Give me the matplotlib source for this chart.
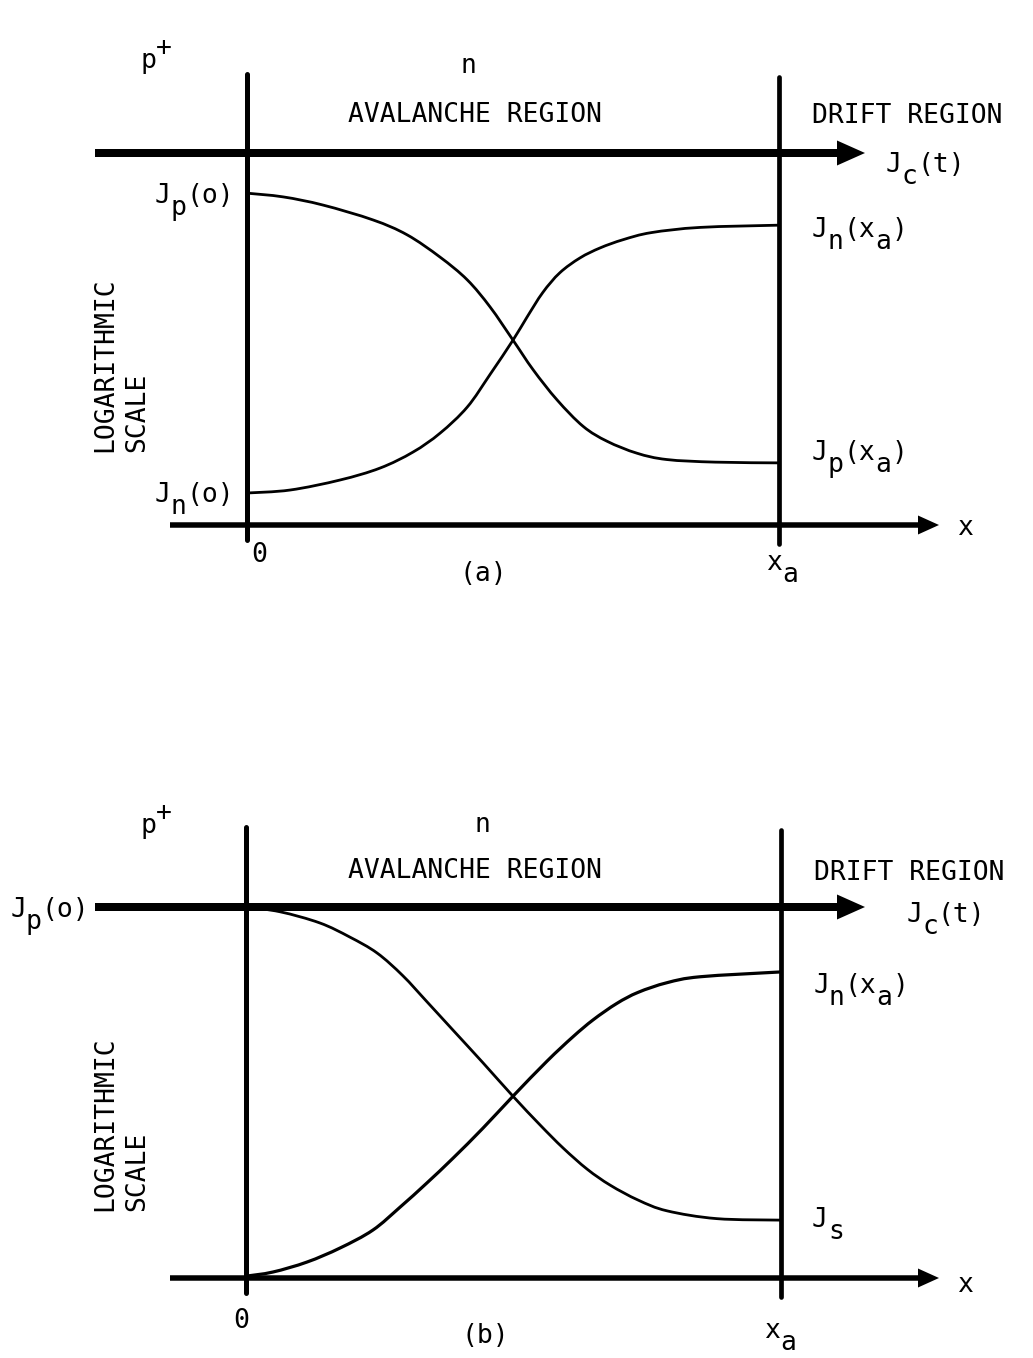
import matplotlib
matplotlib.use('Agg')
import matplotlib.pyplot as plt
import numpy as np
from matplotlib.path import Path
from matplotlib.patches import PathPatch

W, H, DPI = 1033, 1358, 100
FONT = 'DejaVu Sans Mono'
FS = 19
PITCH = 0.602 * FS      # width of one character cell, points
SUB = -8.5              # typewriter half-line down, points
SUP = 9.5               # half-line up

# x in units of x_a, current level on the log scale (0 = x axis, 1 = J_c line)
# (a) constant J_c, both carriers injected
jp_a_x = [0.000, 0.068, 0.143, 0.237, 0.301, 0.363, 0.414, 0.457, 0.500, 0.538,
          0.583, 0.632, 0.677, 0.733, 0.789, 0.880, 1.000]
jp_a = [0.892, 0.882, 0.860, 0.820, 0.780, 0.720, 0.659, 0.586, 0.497, 0.417,
        0.336, 0.265, 0.225, 0.193, 0.176, 0.169, 0.167]
jn_a_x = [0.000, 0.081, 0.175, 0.250, 0.312, 0.363, 0.414, 0.457, 0.500, 0.526,
          0.556, 0.588, 0.626, 0.664, 0.707, 0.760, 0.852, 1.000]
jn_a = [0.086, 0.094, 0.121, 0.153, 0.196, 0.247, 0.317, 0.405, 0.497, 0.558,
        0.625, 0.678, 0.718, 0.745, 0.767, 0.786, 0.800, 0.806]

# (b) J_p(o) = J_c, only saturation current at x_a
jp_b_x = [0.000, 0.064, 0.138, 0.194, 0.245, 0.293, 0.338, 0.387, 0.443, 0.499,
          0.550, 0.593, 0.638, 0.681, 0.733, 0.787, 0.880, 1.000]
jp_b = [1.000, 0.987, 0.957, 0.919, 0.876, 0.815, 0.745, 0.668, 0.580, 0.490,
        0.412, 0.350, 0.293, 0.250, 0.210, 0.181, 0.160, 0.156]
jn_b_x = [0.000, 0.050, 0.114, 0.176, 0.237, 0.288, 0.338, 0.387, 0.443, 0.499,
          0.563, 0.611, 0.649, 0.693, 0.733, 0.787, 0.849, 1.000]
jn_b = [0.005, 0.016, 0.043, 0.081, 0.129, 0.191, 0.256, 0.323, 0.404, 0.490,
        0.585, 0.650, 0.696, 0.740, 0.770, 0.796, 0.812, 0.825]

labels_a = [
    (-0.201, 1.228, [('p', 0), ('+', SUP)]),
    (0.402, 1.215, [('n', 0)]),
    (0.190, 1.083, [('AVALANCHE REGION', 0)]),
    (1.062, 1.081, [('DRIFT REGION', 0)]),
    (1.201, 0.949, [('J', 0), ('c', SUB), ('(t)', 0)]),
    (-0.173, 0.866, [('J', 0), ('p', SUB), ('(o)', 0)]),
    (-0.173, 0.062, [('J', 0), ('n', SUB), ('(o)', 0)]),
    (1.062, 0.774, [('J', 0), ('n', SUB), ('(x', 0), ('a', SUB), (')', 0)]),
    (1.062, 0.175, [('J', 0), ('p', SUB), ('(x', 0), ('a', SUB), (')', 0)]),
    (0.008, -0.099, [('0', 0)]),
    (0.400, -0.151, [('(a)', 0)]),
    (0.976, -0.121, [('x', 0), ('a', SUB)]),
    (1.335, -0.027, [('x', 0)]),
]
labels_b = [
    (-0.198, 1.199, [('p', 0), ('+', SUP)]),
    (0.428, 1.202, [('n', 0)]),
    (0.191, 1.078, [('AVALANCHE REGION', 0)]),
    (1.062, 1.073, [('DRIFT REGION', 0)]),
    (1.234, 0.960, [('J', 0), ('c', SUB), ('(t)', 0)]),
    (-0.441, 0.973, [('J', 0), ('p', SUB), ('(o)', 0)]),
    (1.060, 0.768, [('J', 0), ('n', SUB), ('(x', 0), ('a', SUB), (')', 0)]),
    (1.058, 0.137, [('J', 0), ('s', SUB)]),
    (-0.024, -0.135, [('0', 0)]),
    (0.402, -0.175, [('(b)', 0)]),
    (0.968, -0.162, [('x', 0), ('a', SUB)]),
    (1.329, -0.038, [('x', 0)]),
]

# panel frames in pixels: left line, x_a line, x axis row, J_c row
frame_a = dict(left=247, right=779, axis=525, top=153)
frame_b = dict(left=246, right=781, axis=1278, top=907)


def make_panel(fr):
    ax = fig.add_axes([fr['left'] / W, 1 - fr['axis'] / H,
                       (fr['right'] - fr['left']) / W, (fr['axis'] - fr['top']) / H])
    ax.set_xlim(0, 1)
    ax.set_ylim(0, 1)
    ax.axis('off')
    return ax


def px(fr, n, axis='x'):
    # pixel length -> data length
    if axis == 'x':
        return n / (fr['right'] - fr['left'])
    return n / (fr['axis'] - fr['top'])


def arrow(ax, fr, x0, x1, y, width, head_w, head_l):
    ax.arrow(x0, y, x1 - x0, 0, width=px(fr, width, 'y'),
             head_width=px(fr, head_w, 'y'), head_length=px(fr, head_l),
             length_includes_head=True, fc='black', ec='none', clip_on=False)


def curve(ax, xs, ys, lw):
    # smooth pen stroke through the points (Catmull-Rom as cubic Beziers)
    p = np.column_stack([xs, ys])
    q = np.vstack([p[0], p, p[-1]])
    verts = [p[0]]
    codes = [Path.MOVETO]
    for i in range(len(p) - 1):
        c1 = q[i + 1] + (q[i + 2] - q[i]) / 6
        c2 = q[i + 2] - (q[i + 3] - q[i + 1]) / 6
        verts += [c1, c2, q[i + 2]]
        codes += [Path.CURVE4] * 3
    ax.add_patch(PathPatch(Path(verts, codes), fill=False, ec='black', lw=lw,
                           joinstyle='round', capstyle='round', clip_on=False))


def put_label(ax, x, y, parts):
    col = 0
    for s, dy in parts:
        ax.annotate(s, (x, y), xytext=(col * PITCH, dy), textcoords='offset points',
                    fontsize=FS, family=FONT, ha='left', va='baseline',
                    annotation_clip=False)
        col += len(s)


def draw_panel(fr, jp_x, jp, jn_x, jn, labels, log_y, lw_n):
    ax = make_panel(fr)
    # junction and x_a boundaries
    ax.plot([0, 0], [-px(fr, 15, 'y'), px(fr, 451, 'y')], color='black', lw=3.6,
            solid_capstyle='round', clip_on=False)
    ax.plot([1, 1], [-px(fr, 19, 'y'), px(fr, 448, 'y')], color='black', lw=3.4,
            solid_capstyle='round', clip_on=False)
    # conduction current and distance axis
    arrow(ax, fr, -px(fr, fr['left'] - 95), px(fr, 865 - fr['left']), 1.0, 8, 25, 28)
    arrow(ax, fr, -px(fr, fr['left'] - 170), px(fr, 939 - fr['left']), 0.0, 5.5, 19, 21)
    curve(ax, jp_x, jp, 2.0)
    curve(ax, jn_x, jn, lw_n)
    for x, y, parts in labels:
        put_label(ax, x, y, parts)
    ax.text(px(fr, 105 - fr['left']), log_y, 'LOGARITHMIC', rotation=90,
            ha='center', va='bottom', fontsize=FS, family=FONT)
    ax.text(px(fr, 137 - fr['left']), log_y, 'SCALE', rotation=90,
            ha='center', va='bottom', fontsize=FS, family=FONT)
    return ax


fig = plt.figure(figsize=(W / DPI, H / DPI), dpi=DPI, facecolor='white')
draw_panel(frame_a, jp_a_x, jp_a, jn_a_x, jn_a, labels_a, 0.196, 2.0)
draw_panel(frame_b, jp_b_x, jp_b, jn_b_x, jn_b, labels_b, 0.181, 2.3)
fig.savefig('out.png', dpi=DPI, facecolor='white')
